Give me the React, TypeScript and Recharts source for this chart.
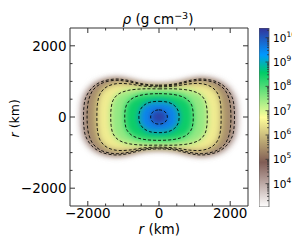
import React from 'react';
import { ScatterChart, Scatter, XAxis, YAxis, BarChart, Bar } from 'recharts';

// ---------- data ----------
const KM_DOMAIN = [-2500, 2500];
const KM_TICKS = [-2000, -1500, -1000, -500, 0, 500, 1000, 1500, 2000];
const KM_LABELED = [-2000, 0, 2000];

// colour scale limits (log10 of rho)
const LOG_MIN = 3.04;
const LOG_MAX = 10.4;
const CB_MAJOR_EXP = [4, 5, 6, 7, 8, 9, 10];

// contour shapes, first quadrant (km), symmetric in x and y
const contour1e10 = [[0, 200], [130, 172], [205, 100], [235, 0]];
const contour1e9 = [[0, 440], [260, 412], [440, 315], [540, 170], [565, 0]];
const contour1e8 = [[0, 655], [420, 630], [720, 540], [890, 385], [950, 200], [962, 0]];
const contour1e7 = [[0, 790], [450, 790], [850, 750], [1130, 650], [1290, 470], [1345, 240], [1355, 0]];
const contour1e6 = [[0, 845], [450, 870], [850, 930], [1200, 935], [1480, 840], [1660, 640], [1730, 360], [1745, 0]];
const contour1e5 = [[0, 870], [450, 905], [900, 1000], [1250, 1030], [1600, 950], [1850, 760], [1970, 500], [2010, 250], [2020, 0]];
const contour1e4 = [[0, 895], [450, 930], [900, 1035], [1250, 1065], [1620, 990], [1890, 810], [2060, 540], [2110, 270], [2120, 0]];
const edgeBoundary = [[0, 925], [450, 960], [900, 1070], [1250, 1105], [1650, 1035], [1950, 855], [2150, 575], [2215, 290], [2225, 0]];

const contourLevels = [10, 9, 8, 7, 6, 5, 4];
const contourShapes = [contour1e10, contour1e9, contour1e8, contour1e7, contour1e6, contour1e5, contour1e4];

// terrain colormap (reversed in use)
const TERRAIN: [number, number[]][] = [
  [0, [51, 51, 153]],
  [0.15, [0, 153, 255]],
  [0.25, [0, 204, 102]],
  [0.5, [255, 255, 153]],
  [0.75, [128, 92, 84]],
  [1, [255, 255, 255]],
];

const FONT = '"DejaVu Sans", sans-serif';
const AX = '#333';

function cmap(logRho: number) {
  let f = (logRho - LOG_MIN) / (LOG_MAX - LOG_MIN);
  f = Math.max(0, Math.min(1, f));
  const t = 1 - f;
  for (let i = 0; i < TERRAIN.length - 1; i++) {
    const [t0, c0] = TERRAIN[i];
    const [t1, c1] = TERRAIN[i + 1];
    if (t >= t0 && t <= t1) {
      const u = (t - t0) / (t1 - t0);
      const c = c0.map((v, k) => Math.round(v + (c1[k] - v) * u));
      return `rgb(${c[0]},${c[1]},${c[2]})`;
    }
  }
  return 'white';
}

function mirrorLoop(q1: number[][]) {
  const n = q1.length;
  const pts: number[][] = [
    ...q1,
    ...q1.slice(0, n - 1).reverse().map(([x, y]) => [x, -y]),
    ...q1.slice(1).map(([x, y]) => [-x, -y]),
    ...q1.slice(1, n - 1).reverse().map(([x, y]) => [-x, y]),
  ];
  return pts.map(([x, y]) => ({ x, y }));
}

function closedSmoothPath(pts: { x: number; y: number }[]) {
  const n = pts.length;
  if (!n) return '';
  let d = `M${pts[0].x},${pts[0].y}`;
  for (let i = 0; i < n; i++) {
    const p0 = pts[(i - 1 + n) % n];
    const p1 = pts[i];
    const p2 = pts[(i + 1) % n];
    const p3 = pts[(i + 2) % n];
    const c1x = p1.x + (p2.x - p0.x) / 6;
    const c1y = p1.y + (p2.y - p0.y) / 6;
    const c2x = p2.x - (p3.x - p1.x) / 6;
    const c2y = p2.y - (p3.y - p1.y) / 6;
    d += ` C${c1x},${c1y} ${c2x},${c2y} ${p2.x},${p2.y}`;
  }
  return d + ' Z';
}

const fillLine = (color: string) => (props: any) => {
  if (!props || !props.points) return <g />;
  return <path d={closedSmoothPath(props.points)} fill={color} stroke="none" filter="url(#soften)" />;
};

const dashLine = (props: any) => {
  if (!props || !props.points) return <g />;
  return (
    <path d={closedSmoothPath(props.points)} fill="none" stroke="#000" strokeWidth={0.85} strokeDasharray="3 2" />
  );
};

const noShape = () => <g />;

const fmtKm = (v: number) => (v < 0 ? `\u2212${Math.abs(v)}` : `${v}`);

const BottomTick = (props: any) => {
  const { x, y, payload } = props;
  const major = KM_LABELED.includes(payload.value);
  return (
    <g>
      <line x1={x} y1={y} x2={x} y2={y - (major ? 5 : 2.5)} stroke={AX} strokeWidth={1} />
      {major && (
        <text x={x} y={y + 12} textAnchor="middle" fontSize={13.5} fontFamily={FONT} fill="#000">
          {fmtKm(payload.value)}
        </text>
      )}
    </g>
  );
};
const TopTick = (props: any) => {
  const { x, y, payload } = props;
  const major = KM_LABELED.includes(payload.value);
  return <line x1={x} y1={y} x2={x} y2={y + (major ? 5 : 2.5)} stroke={AX} strokeWidth={1} />;
};
const LeftTick = (props: any) => {
  const { x, y, payload } = props;
  const major = KM_LABELED.includes(payload.value);
  return (
    <g>
      <line x1={x} y1={y} x2={x + (major ? 5 : 2.5)} y2={y} stroke={AX} strokeWidth={1} />
      {major && (
        <text x={x - 3.5} y={y + 4.8} textAnchor="end" fontSize={13.5} fontFamily={FONT} fill="#000">
          {fmtKm(payload.value)}
        </text>
      )}
    </g>
  );
};
const RightTick = (props: any) => {
  const { x, y, payload } = props;
  const major = KM_LABELED.includes(payload.value);
  return <line x1={x} y1={y} x2={x - (major ? 5 : 2.5)} y2={y} stroke={AX} strokeWidth={1} />;
};

const CB_TICKS: number[] = [];
for (let k = 3; k <= 10; k++) {
  for (let m = 1; m <= 9; m++) {
    const v = m * Math.pow(10, k);
    if (Math.log10(v) >= LOG_MIN && Math.log10(v) <= LOG_MAX) CB_TICKS.push(v);
  }
}

const CbTick = (props: any) => {
  const { x, y, payload } = props;
  const e = Math.log10(payload.value);
  const major = Math.abs(e - Math.round(e)) < 1e-6 && CB_MAJOR_EXP.includes(Math.round(e));
  return (
    <g>
      <line x1={x} y1={y} x2={x - (major ? 3.5 : 2)} y2={y} stroke={AX} strokeWidth={0.8} />
      {major && (
        <text x={x + 4} y={y + 4} fontSize={10.5} fontFamily={FONT} fill="#000">
          10
          <tspan dy={-5} fontSize={7.5}>
            {Math.round(e)}
          </tspan>
        </text>
      )}
    </g>
  );
};

export default function App() {
  const fills = [
    { key: 'edge', pts: mirrorLoop(edgeBoundary), color: cmap(3.85) },
    ...contourShapes
      .map((s, i) => ({
        key: `f${contourLevels[i]}`,
        pts: mirrorLoop(s),
        color: cmap(contourLevels[i] === 10 ? 10.25 : contourLevels[i] + 0.5),
      }))
      .reverse(),
  ];
  const lines = contourShapes.map((s, i) => ({ key: `l${contourLevels[i]}`, pts: mirrorLoop(s) }));
  const cbData = [{ name: 'cb', range: [Math.pow(10, LOG_MIN), Math.pow(10, LOG_MAX)] }];

  return (
    <div style={{ position: 'relative', width: 290, height: 240, fontFamily: FONT }}>
      <ScatterChart
        width={290}
        height={240}
        margin={{ top: 19, right: 49, bottom: 0, left: 0 }}
        style={{ overflow: 'visible' }}
      >
        <defs>
          <filter id="soften" x="-30%" y="-30%" width="160%" height="160%">
            <feGaussianBlur stdDeviation="3" />
          </filter>
        </defs>
        <XAxis
          dataKey="x"
          type="number"
          domain={KM_DOMAIN}
          ticks={KM_TICKS}
          interval={0}
          allowDataOverflow
          height={42}
          tickSize={0}
          tickMargin={0}
          tickLine={false}
          axisLine={{ stroke: AX, strokeWidth: 1 }}
          tick={<BottomTick />}
          label={() => (
            <text x={151.3} y={226} textAnchor="middle" fontSize={13.5} fontFamily={FONT} fill="#000">
              <tspan fontStyle="italic">r</tspan> (km)
            </text>
          )}
        />
        <XAxis
          xAxisId="top"
          orientation="top"
          dataKey="x"
          type="number"
          domain={KM_DOMAIN}
          ticks={KM_TICKS}
          interval={0}
          allowDataOverflow
          height={1}
          tickSize={0}
          tickMargin={0}
          tickLine={false}
          axisLine={{ stroke: AX, strokeWidth: 1 }}
          tick={<TopTick />}
          label={() => (
            <text x={150} y={16} textAnchor="middle" fontSize={13.5} fontFamily={FONT} fill="#000">
              <tspan fontStyle="italic">ρ</tspan> (g cm
              <tspan dy={-5} fontSize={9.5}>
                −3
              </tspan>
              <tspan dy={5}>)</tspan>
            </text>
          )}
        />
        <YAxis
          dataKey="y"
          type="number"
          domain={KM_DOMAIN}
          ticks={KM_TICKS}
          interval={0}
          allowDataOverflow
          width={62}
          tickSize={0}
          tickMargin={0}
          tickLine={false}
          axisLine={{ stroke: AX, strokeWidth: 1 }}
          tick={<LeftTick />}
          label={() => (
            <text
              x={11.5}
              y={110.3}
              transform="rotate(-90, 11.5, 110.3)"
              textAnchor="middle"
              fontSize={12.5}
              fontFamily={FONT}
              fill="#000"
            >
              <tspan fontStyle="italic">r</tspan> (km)
            </text>
          )}
        />
        <YAxis
          yAxisId="right"
          orientation="right"
          dataKey="y"
          type="number"
          domain={KM_DOMAIN}
          ticks={KM_TICKS}
          interval={0}
          allowDataOverflow
          width={1}
          tickSize={0}
          tickMargin={0}
          tickLine={false}
          axisLine={{ stroke: AX, strokeWidth: 1 }}
          tick={<RightTick />}
        />
        {fills.map((f) => (
          <Scatter
            key={f.key}
            data={f.pts}
            fill={f.color}
            line={fillLine(f.color)}
            shape={noShape}
            isAnimationActive={false}
          />
        ))}
        {lines.map((l) => (
          <Scatter key={l.key} data={l.pts} fill="#000" line={dashLine} shape={noShape} isAnimationActive={false} />
        ))}
      </ScatterChart>
      <div style={{ position: 'absolute', left: 251, top: 0 }}>
        <BarChart
          width={40}
          height={240}
          data={cbData}
          margin={{ top: 20, right: 0, bottom: 41, left: 0 }}
          barCategoryGap={0}
          style={{ overflow: 'visible' }}
        >
          <defs>
            <linearGradient id="cbGrad" x1="0" y1="0" x2="0" y2="1">
              {TERRAIN.map(([t, c]) => (
                <stop key={t} offset={`${t * 100}%`} stopColor={`rgb(${c[0]},${c[1]},${c[2]})`} />
              ))}
            </linearGradient>
          </defs>
          <XAxis dataKey="name" hide />
          <YAxis
            orientation="right"
            type="number"
            scale="log"
            domain={[Math.pow(10, LOG_MIN), Math.pow(10, LOG_MAX)]}
            allowDataOverflow
            ticks={CB_TICKS}
            interval={0}
            width={30}
            tickSize={0}
            tickMargin={0}
            tickLine={false}
            axisLine={false}
            tick={<CbTick />}
          />
          <Bar dataKey="range" fill="url(#cbGrad)" stroke="#555" strokeWidth={0.8} isAnimationActive={false} />
        </BarChart>
      </div>
    </div>
  );
}
